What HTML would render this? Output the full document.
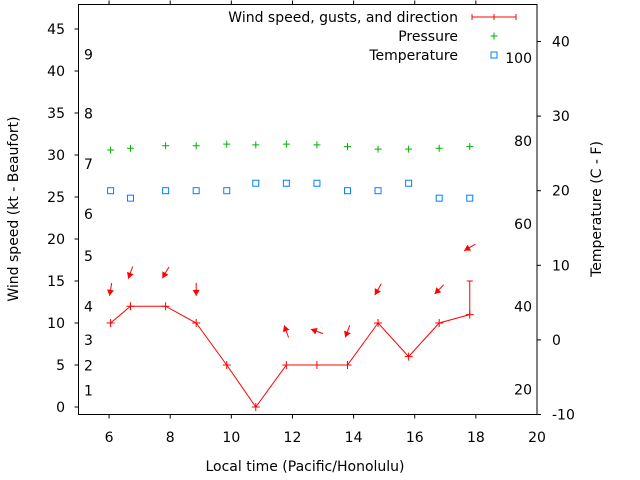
<!DOCTYPE html>
<html><head><meta charset="utf-8"><style>
html,body{margin:0;padding:0;background:#fff;}
svg{display:block;font-family:"DejaVu Sans","Liberation Sans",sans-serif;}
</style></head><body>
<svg id="chart" width="640" height="480" xmlns="http://www.w3.org/2000/svg"></svg>
<script>
const times=[6.05,6.7,7.85,8.85,9.85,10.8,11.8,12.8,13.8,14.8,15.8,16.8,17.8];
const windSpeed=[10,12,12,10,5,0,5,5,5,10,6,10,11];
const gusts=[null,null,null,null,null,null,null,null,null,null,null,null,15];
const windDir=[10,20,30,0,null,null,160,110,20,30,null,45,60];
const pressure=[30.6,30.8,31.1,31.1,31.3,31.2,31.3,31.2,31.0,30.7,30.7,30.8,31.0];
const tempC=[20,19,20,20,20,21,21,21,20,20,21,19,19];
const xTicks=[6,8,10,12,14,16,18,20];
const windTicks=[0,5,10,15,20,25,30,35,40,45];
const beaufortKt=[1,4,7,11,17,22,28,34,41];
const beaufortLabels=["1","2","3","4","5","6","7","8","9"];
const cTicks=[-10,0,10,20,30,40];
const fTicks=[20,40,60,80,100];

const L=78.5,R=537,T=4.5,B=414.5;
const X=v=>L+(v-5)*(R-L)/15;
const Y=v=>407-v*8.4;
const YC=c=>B-(c+10)*7.46;
const YF=f=>YC((f-32)*5/9);
const svg=document.getElementById('chart');
const NS='http://www.w3.org/2000/svg';
function mk(tag,attrs,parent){const e=document.createElementNS(NS,tag);for(const k in attrs)e.setAttribute(k,attrs[k]);(parent||svg).appendChild(e);return e;}
function txt(s,x,y,anchor,extra){const e=mk('text',Object.assign({x:x,y:y,'font-size':14,fill:'#000','text-anchor':anchor||'start'},extra||{}));e.textContent=s;return e;}

let fr=mk('rect',{x:L,y:T,width:R-L,height:B-T,fill:'none',stroke:'#000','stroke-width':1});


xTicks.forEach(v=>{const x=X(v);
 if(v<20){mk('line',{x1:x,y1:B,x2:x,y2:B+4,stroke:'#000'});mk('line',{x1:x,y1:T,x2:x,y2:T-4,stroke:'#000'});}
 const t=txt(String(v),x,442,'middle');
 });
windTicks.forEach(v=>{const y=Y(v);mk('line',{x1:L-4,y1:y,x2:L,y2:y,stroke:'#000'});
 const t=txt(String(v),65,y+5,'end');
 });
beaufortKt.forEach((k,i)=>{const t=txt(beaufortLabels[i],84,Y(k)-3,'start');
 });
cTicks.forEach(c=>{const y=YC(c);mk('line',{x1:R,y1:y,x2:R+4,y2:y,stroke:'#000'});
 const t=txt(String(c),552,y+5,'start');
 });
fTicks.forEach(f=>{const t=txt(String(f),532,YF(f)+5,'end');
 });

let yt=txt('Wind speed (kt - Beaufort)',0,0,'middle',{transform:'translate(18,209) rotate(-90)'});

let yt2=txt('Temperature (C - F)',0,0,'middle',{transform:'translate(601,209) rotate(-90)'});

let xt=txt('Local time (Pacific/Honolulu)',305,471,'middle');


let pts=times.map((t,i)=>X(t)+','+Y(windSpeed[i])).join(' ');
let wl=mk('polyline',{points:pts,fill:'none',stroke:'#f00','stroke-width':1});

times.forEach((t,i)=>{const x=X(t),y=Y(windSpeed[i]);
 const g=mk('path',{d:`M${x-4},${y}H${x+4}M${x},${y-4}V${y+4}`,stroke:'#f00','stroke-width':1});
 
 if(gusts[i]!=null){const gy=Y(gusts[i]);
  const gb=mk('path',{d:`M${x},${y}V${gy}M${x-3},${gy}H${x+3}`,stroke:'#f00'});
  }
 if(windDir[i]!=null){const top=Math.max(windSpeed[i],gusts[i]||0)+4;const cy=Y(top);
  const th=windDir[i]*Math.PI/180;const dx=-Math.sin(th),dy=Math.cos(th);
  const hx=x+dx*6.5,hy=cy+dy*6.5,tx=x-dx*6.5,ty=cy-dy*6.5;
  const px=-dy,py=dx;
  const a=mk('g',{});
  
  mk('line',{x1:tx,y1:ty,x2:hx,y2:hy,stroke:'#f00'},a);
  mk('polygon',{points:`${hx},${hy} ${hx-dx*6+px*3.5},${hy-dy*6+py*3.5} ${hx-dx*6-px*3.5},${hy-dy*6-py*3.5}`,fill:'#f00'},a);}
});
times.forEach((t,i)=>{const x=X(t),y=Y(pressure[i]);
 const p=mk('path',{d:`M${x-3.5},${y}H${x+3.5}M${x},${y-3.5}V${y+3.5}`,stroke:'#00b000'});
 });
times.forEach((t,i)=>{const x=X(t),y=YC(tempC[i]);
 const r=mk('rect',{x:x-3,y:y-3,width:6,height:6,fill:'none',stroke:'#0080ff'});
 });

const lg=mk('g',{});
let l1=txt('Wind speed, gusts, and direction',458,22,'end');
mk('path',{d:'M472,17H516M472,14V20M494,14V20M516,14V20',stroke:'#f00'},lg);
let l2=txt('Pressure',458,41,'end');
mk('path',{d:'M490.5,36H497.5M494,32.5V39.5',stroke:'#00b000'},lg);
let l3=txt('Temperature',458,60,'end');
mk('rect',{x:491,y:52,width:6,height:6,fill:'none',stroke:'#0080ff'},lg);
</script>
</body></html>
